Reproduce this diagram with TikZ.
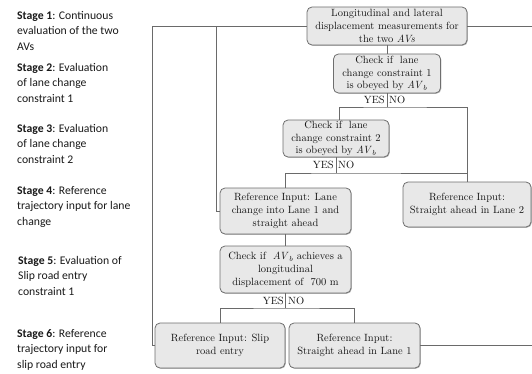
\documentclass[tikz,border=0pt]{standalone}
\usepackage{fontspec}
\newfontfamily\stagefont{Carlito}
\usetikzlibrary{shadows}
\definecolor{boxfill}{HTML}{E8E8E8}
\definecolor{boxline}{HTML}{6E6E6E}
\definecolor{connline}{HTML}{6A6A6A}
\definecolor{txt}{HTML}{151515}
\newcommand{\avb}{\textit{AV}\textsubscript{\textit{b}}}
\begin{document}
\begin{tikzpicture}[x=1pt,y=-1pt,
  box/.style={draw=boxline, fill=boxfill, rounded corners=5pt, line width=0.8pt,
    align=center, inner sep=0pt, text=txt,
    drop shadow={shadow xshift=0.8pt, shadow yshift=-0.8pt, fill=black!45, opacity=0.6},
    font=\fontsize{10.5}{12.8}\selectfont},
  conn/.style={draw=connline, line width=0.7pt},
  yn/.style={inner sep=0pt, text=txt, font=\fontsize{10.5}{12}\selectfont},
  stage/.style={anchor=north west, align=left, inner sep=0pt, text=black!90,
    font=\stagefont\fontsize{11.7}{15.5}\selectfont}]
\useasboundingbox (0,0) rectangle (532,374);

% stage labels
\node[stage] (s1) at (17,11) {\textbf{Stage 1}: Continuous\\evaluation of the two\\AVs};
\node[stage] (s2) at (17,63) {\textbf{Stage 2}: Evaluation\\of lane change\\constraint 1};
\node[stage] (s3) at (17,124) {\textbf{Stage 3}: Evaluation\\of lane change\\constraint 2};
\node[stage] (s4) at (17,186) {\textbf{Stage 4}: Reference\\trajectory input for lane\\change};
\node[stage] (s5) at (18,256) {\textbf{Stage 5}: Evaluation of\\Slip road entry\\constraint 1};
\node[stage] (s6) at (17,329) {\textbf{Stage 6}: Reference\\trajectory input for\\slip road entry};

% boxes
\node[box, minimum width=160pt, minimum height=38pt] (A) at (387,26)
  {Longitudinal and lateral\\displacement measurements for\\the two \textit{AVs}};
\node[box, minimum width=107pt, minimum height=39pt] (B) at (387,73.5)
  {Check if\ \ lane\\change constraint 1\\is obeyed by \avb};
\node[box, minimum width=106pt, minimum height=37pt] (C) at (336,138.5)
  {Check if\ \ lane\\change constraint 2\\is obeyed by \avb};
\node[box, minimum width=128pt, minimum height=45pt] (D) at (467,204.5)
  {Reference Input:\\Straight ahead in Lane 2};
\node[box, minimum width=131pt, minimum height=46pt] (E) at (285.5,211)
  {Reference Input: Lane\\change into Lane 1 and\\straight ahead};
\node[box, minimum width=131pt, minimum height=47pt] (F) at (285.5,269.5)
  {Check if\ \ \avb\ achieves a\\longitudinal\\displacement of\ \ 700 m};
\node[box, minimum width=130pt, minimum height=45pt] (G) at (220,345.5)
  {Reference Input: Slip\\road entry};
\node[box, minimum width=131pt, minimum height=45pt] (H) at (354.5,345.5)
  {Reference Input:\\Straight ahead in Lane 1};

% YES / NO labels
\node[yn, anchor=east] (byes) at (385,100) {YES};
\node[yn, anchor=west] (bno) at (389,100) {NO};
\node[yn, anchor=east] (cyes) at (334,165) {YES};
\node[yn, anchor=west] (cno) at (338,165) {NO};
\node[yn, anchor=east] (fyes) at (284,301) {YES};
\node[yn, anchor=west] (fno) at (288,301) {NO};

% junctions and free ends
\coordinate (bj) at (387,107);
\coordinate (cj) at (336,173);
\coordinate (fj) at (285.5,308);
\coordinate (rA) at (532,26);
\coordinate (rH) at (532,345.5);

% connectors
\draw[conn] (A.south) -- (B.north);
\draw[conn] (B.south) -- (bj);
\draw[conn] ([xshift=3pt]C.north) |- (bj) -| (D.north);
\draw[conn] (C.south) -- (cj);
\draw[conn] (E.north) |- (cj) -| (D.north);
\draw[conn] (E.west) -- ++(-3,0) |- (A.west);
\draw[conn] (G.west) -- ++(-2,0) |- (A.west);
\draw[conn] (A.east) -- (rA);
\draw[conn] (E.south) -- (F.north);
\draw[conn] (F.south) -- (fj);
\draw[conn] (G.north) |- (fj) -| (H.north);
\draw[conn] (H.east) -- (rH);
\end{tikzpicture}
\end{document}
